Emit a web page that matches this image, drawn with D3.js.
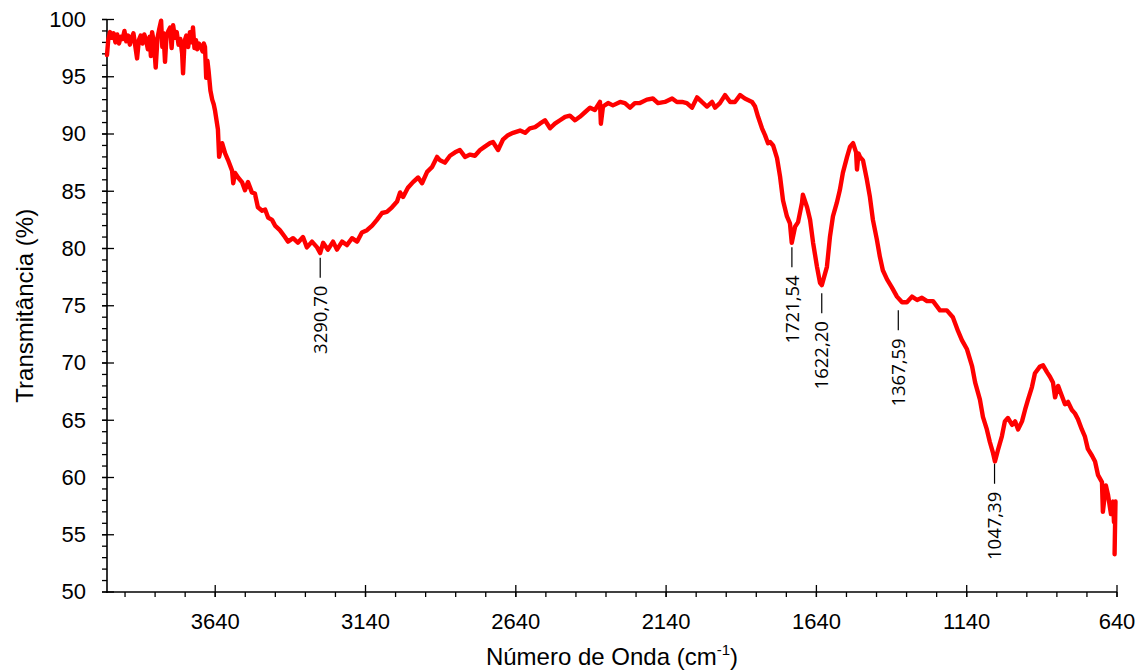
<!DOCTYPE html>
<html>
<head>
<meta charset="utf-8">
<script src="https://cdn.jsdelivr.net/npm/d3@7"></script>
<style>
  html, body { margin: 0; padding: 0; background: #fff; }
  svg { display: block; }
</style>
</head>
<body>
<svg id="chart" width="1145" height="672"></svg>
<script>
// ---- Data ----
const wavenumbers = [
4000,3996,3990,3984,3978,3972,3966,3960,3954,3948,3942,3936,3930,3924,3918,3912,3906,3900,3894,3888,
3882,3876,3870,3864,3858,3854,3850,3844,3838,3832,3826,3820,3816,3812,3807,3802,3796,3790,3785,3780,
3774,3768,3762,3756,3750,3747,3742,3736,3730,3724,3718,3714,3709,3704,3700,3694,3688,3682,3678,3674,
3670,3666,3662,3656,3650,3645,3641,3631,3627,3617,3607,3597,3584,3580,3574,3564,3551,3541,3531,3518,
3508,3498,3484,3474,3464,3451,3441,3425,3408,3398,3381,3365,3348,3335,3318,3301,3291,3281,3265,3248,
3235,3218,3202,3185,3168,3152,3135,3118,3102,3085,3069,3052,3035,3025,3015,2999,2982,2965,2952,2935,
2919,2902,2892,2876,2859,2842,2826,2809,2792,2776,2759,2743,2726,2716,2699,2683,2666,2649,2626,2609,
2593,2576,2560,2543,2526,2510,2493,2476,2460,2443,2427,2410,2393,2377,2360,2357,2350,2333,2317,2293,
2277,2260,2244,2227,2204,2184,2167,2144,2120,2104,2087,2071,2054,2037,2021,2004,1987,1977,1961,1944,
1927,1911,1894,1878,1854,1844,1834,1821,1811,1801,1794,1784,1771,1761,1751,1738,1728,1722,1711,1701,
1688,1685,1671,1661,1651,1638,1628,1622,1605,1595,1585,1572,1562,1552,1538,1528,1518,1508,1505,1500,
1495,1485,1472,1462,1452,1439,1429,1419,1405,1389,1372,1355,1339,1322,1305,1289,1272,1252,1229,1206,
1186,1169,1156,1139,1122,1112,1096,1086,1073,1063,1053,1046,1036,1023,1013,1003,989,979,969,956,
946,936,923,913,896,886,873,863,853,846,836,823,813,803,790,780,770,757,747,737,
723,713,703,690,687,677,670,660,653,650,645,647,648
];
const transmittance = [
96.9,98.2,98.9,98.4,98.8,98.0,98.7,97.9,98.5,98.3,99.0,98.1,98.6,97.8,98.4,98.8,97.7,96.6,98.2,98.6,
97.9,98.7,98.2,97.4,98.5,96.8,98.9,98.0,95.8,98.4,99.2,99.9,97.6,98.8,96.3,98.6,99.0,99.3,97.5,99.5,
98.4,98.9,97.8,98.3,97.0,95.3,98.1,98.6,97.6,98.9,98.0,99.3,97.5,98.2,97.4,97.9,97.6,97.2,97.9,97.6,
94.9,96.4,95.5,93.8,93.0,92.6,92.1,90.4,88.0,89.2,88.3,87.7,86.8,85.7,86.6,86.2,85.8,85.1,85.8,84.9,
84.8,83.6,83.3,83.4,82.7,82.5,82.0,81.6,81.0,80.6,80.9,80.5,81.0,80.1,80.6,80.1,79.6,80.5,79.9,80.6,
79.9,80.6,80.3,80.9,80.6,81.4,81.6,82.0,82.5,83.1,83.2,83.6,84.1,84.9,84.5,85.3,85.8,86.2,85.7,86.7,
87.1,88.0,87.7,87.5,88.1,88.4,88.6,88.0,88.2,88.1,88.6,88.9,89.2,89.3,88.6,89.5,89.9,90.1,90.3,90.1,
90.5,90.6,90.9,91.2,90.5,90.9,91.2,91.5,91.6,91.2,91.5,91.9,92.3,92.1,92.8,90.9,92.4,92.7,92.5,92.8,
92.7,92.3,92.7,92.7,93.0,93.1,92.7,92.8,93.1,92.8,92.8,92.7,92.3,93.2,92.8,92.4,92.8,92.3,92.7,93.4,
92.8,92.8,93.4,93.1,92.8,92.4,91.5,90.5,89.9,89.2,89.3,89.0,87.9,86.3,84.2,82.8,82.2,80.5,81.9,82.3,
84.0,84.7,83.6,82.5,80.5,78.4,77.0,76.8,78.4,81.0,82.8,84.0,85.1,86.6,88.0,88.9,89.2,88.4,86.9,88.3,
88.0,87.7,86.0,84.5,82.5,80.8,79.3,78.1,77.3,76.6,75.8,75.3,75.3,75.8,75.5,75.7,75.4,75.4,74.6,74.6,
74.0,72.8,72.0,71.2,69.7,68.3,66.8,65.3,64.2,63.1,62.2,61.4,62.4,63.6,64.9,65.2,64.6,64.9,64.2,64.9,
65.9,66.8,67.9,69.1,69.7,69.8,69.2,68.8,68.3,67.0,68.0,67.1,66.4,66.6,65.9,65.6,65.1,64.2,63.6,62.5,
61.9,61.4,60.2,59.6,57.0,59.3,58.5,56.8,57.9,56.1,57.9,55.0,53.3
];
const xTickValues = [3640, 3140, 2640, 2140, 1640, 1140, 640];
const yTickValues = [50, 55, 60, 65, 70, 75, 80, 85, 90, 95, 100];
const peakWavenumbers = [3290.70, 1721.54, 1622.20, 1367.59, 1047.39];
const peakLabels = ["3290,70", "1721,54", "1622,20", "1367,59", "1047,39"];
const peakLabelLevels = [79.2, 80.1, 76.1, 74.6, 61.2];

const xTitle = "Número de Onda (cm";
const yTitle = "Transmitância (%)";

// ---- Layout ----
const svg = d3.select("#chart");
const mLeft = 107, mRight = 1117, mTop = 19.5, mBottom = 592;

const x = d3.scaleLinear().domain([4000, 640]).range([mLeft, mRight]);
const y = d3.scaleLinear().domain([50, 100]).range([mBottom, mTop]);

const axisColor = "#000";
const tickFont = "'Liberation Sans', Arial, sans-serif";

// minor ticks
const xMinor = d3.range(3940, 639, -100);
const yMinor = d3.range(50, 100.01, 1);

// x-axis
const gx = svg.append("g");
gx.append("line").attr("x1", mLeft - 1).attr("x2", mRight).attr("y1", mBottom).attr("y2", mBottom)
  .attr("stroke", axisColor).attr("stroke-width", 1.6);
gx.selectAll(".xminor").data(xMinor).join("line")
  .attr("x1", d => x(d)).attr("x2", d => x(d)).attr("y1", mBottom).attr("y2", mBottom + 5)
  .attr("stroke", axisColor).attr("stroke-width", 1.3);
gx.selectAll(".xmajor").data(xTickValues).join("line")
  .attr("x1", d => x(d)).attr("x2", d => x(d)).attr("y1", mBottom - 7).attr("y2", mBottom + 5)
  .attr("stroke", axisColor).attr("stroke-width", 1.3);
gx.selectAll("text").data(xTickValues).join("text")
  .attr("x", d => x(d)).attr("y", mBottom + 36.5)
  .attr("text-anchor", "middle")
  .attr("font-family", tickFont).attr("font-size", 22).attr("fill", "#000")
  .text(d => d);

// y-axis
const gy = svg.append("g");
gy.append("line").attr("x1", mLeft).attr("x2", mLeft).attr("y1", mTop).attr("y2", mBottom + 1)
  .attr("stroke", axisColor).attr("stroke-width", 1.6);
gy.selectAll(".yminor").data(yMinor).join("line")
  .attr("x1", mLeft - 5).attr("x2", mLeft).attr("y1", d => y(d)).attr("y2", d => y(d))
  .attr("stroke", axisColor).attr("stroke-width", 1.3);
gy.selectAll(".ymajor").data(yTickValues).join("line")
  .attr("x1", mLeft - 5).attr("x2", mLeft + 7).attr("y1", d => y(d)).attr("y2", d => y(d))
  .attr("stroke", axisColor).attr("stroke-width", 1.3);
gy.selectAll("text").data(yTickValues).join("text")
  .attr("x", 86).attr("y", d => y(d)).attr("dy", "0.33em")
  .attr("text-anchor", "end")
  .attr("font-family", tickFont).attr("font-size", 22).attr("fill", "#000")
  .text(d => d);

// axis titles
const xt = svg.append("text")
  .attr("x", (mLeft + mRight) / 2).attr("y", 665)
  .attr("text-anchor", "middle")
  .attr("font-family", tickFont).attr("font-size", 24).attr("fill", "#000");
xt.append("tspan").text(xTitle);
xt.append("tspan").attr("font-size", 15).attr("dy", -10).text("-1");
xt.append("tspan").attr("dy", 10).text(")");

svg.append("text")
  .attr("transform", `translate(33,${(mTop + mBottom) / 2}) rotate(-90)`)
  .attr("text-anchor", "middle")
  .attr("font-family", tickFont).attr("font-size", 24).attr("fill", "#000")
  .text(yTitle);

// spectrum
const pts = wavenumbers.map((w, i) => [w, transmittance[i]]);
const line = d3.line().x(d => x(d[0])).y(d => y(d[1])).curve(d3.curveLinear);
svg.append("path").datum(pts)
  .attr("d", line)
  .attr("fill", "none")
  .attr("stroke", "#ff0000")
  .attr("stroke-width", 4.4)
  .attr("stroke-linejoin", "round")
  .attr("stroke-linecap", "round");

// peak annotations
const ann = svg.append("g");
peakWavenumbers.forEach((w, i) => {
  const px = x(w), py = y(peakLabelLevels[i]);
  ann.append("line").attr("x1", px).attr("x2", px).attr("y1", py).attr("y2", py + 20)
    .attr("stroke", "#000").attr("stroke-width", 1.2);
  ann.append("text")
    .attr("transform", `translate(${px},${py + 28}) rotate(-90)`)
    .attr("text-anchor", "end").attr("dy", "0.36em")
    .attr("font-family", "'Open Sans', 'Noto Sans', sans-serif").attr("font-size", 18.5)
    .attr("fill", "#000")
    .text(peakLabels[i]);
});
</script>
</body>
</html>
